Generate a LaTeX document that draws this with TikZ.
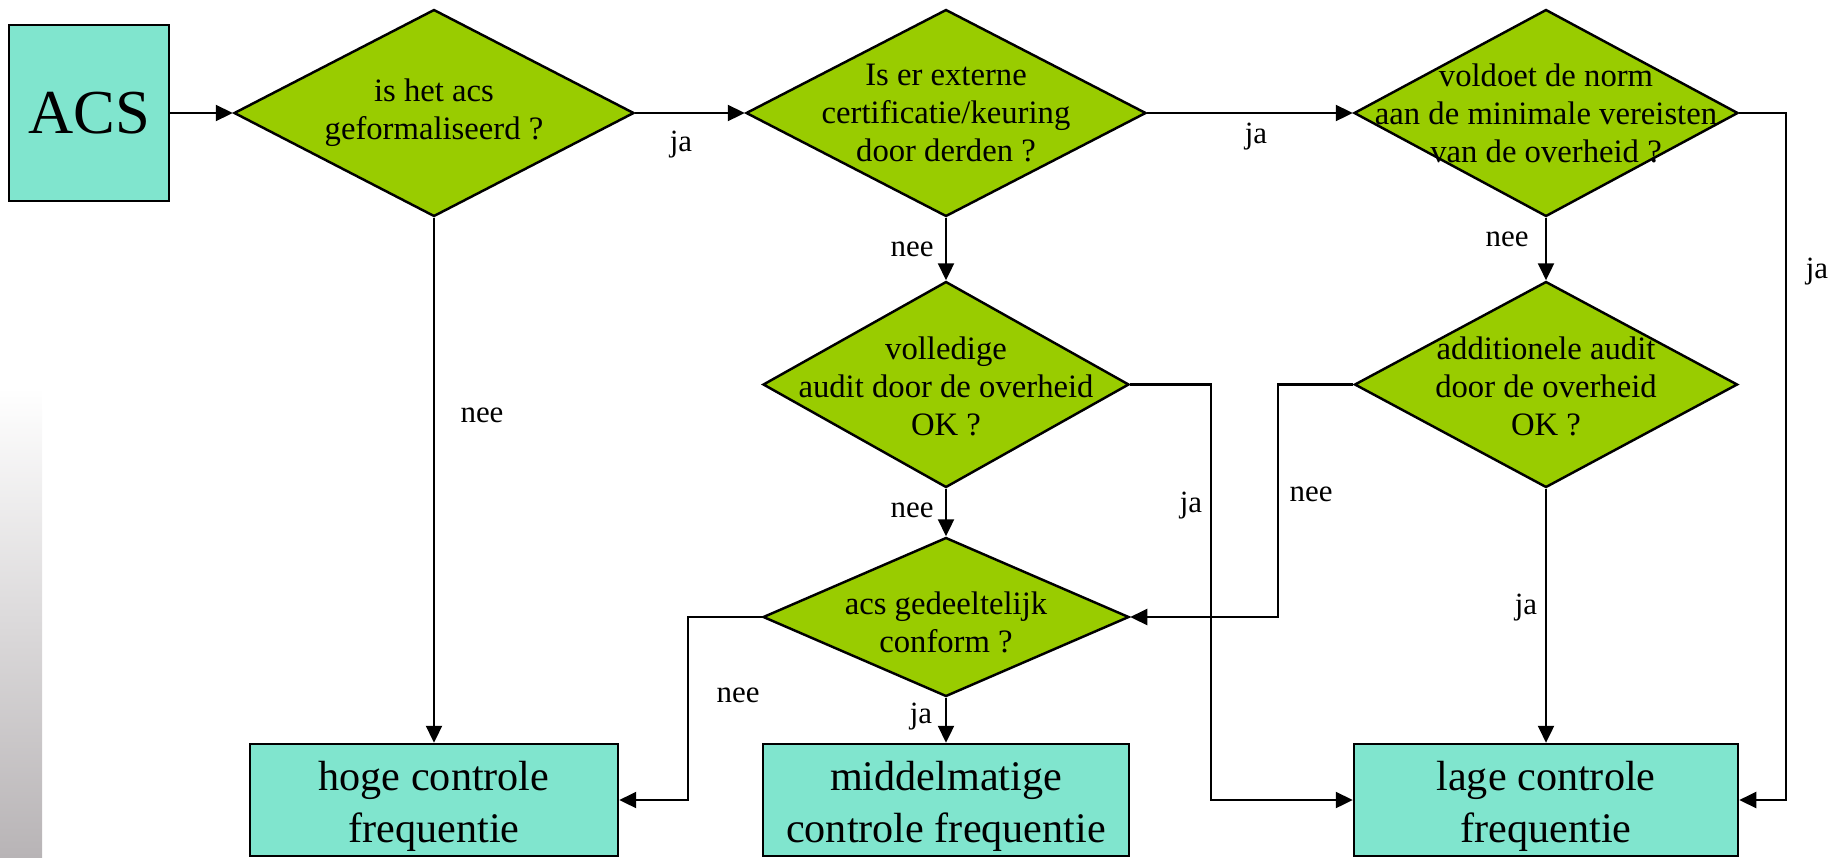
\documentclass[tikz,border=0pt]{standalone}
\usepackage{fontspec}
\setmainfont{Liberation Serif}
\usetikzlibrary{calc, positioning, arrows.meta, shapes.geometric}
\definecolor{kiwi}{RGB}{153,204,0}
\definecolor{mint}{RGB}{128,229,206}
\definecolor{bargray}{RGB}{184,180,182}

\begin{document}
\begin{tikzpicture}[
  decision/.style={diamond, draw, line width=0.7pt, fill=kiwi, inner sep=0pt},
  dtext/.style={align=center, inner sep=0pt, font=\fontsize{9.3}{10.8}\selectfont},
  result/.style={rectangle, draw, line width=0.7pt, fill=mint, align=center, inner sep=0pt,
                 minimum height=1.12cm, font=\fontsize{12}{15}\selectfont},
  outcome/.style={result, text height=27pt},
  answer/.style={inner sep=0pt, font=\fontsize{8.8}{10}\selectfont},
  >={Triangle[length=1.7mm, width=1.6mm]}
]
\useasboundingbox (0,0) rectangle (18.4,-8.57);

% Side bar
\shade[top color=white, bottom color=bargray] (0,-3.87) rectangle (0.42,-8.57);

% Start
\node[result, minimum width=1.60cm, minimum height=1.76cm, font=\fontsize{17.8}{20}\selectfont] (acs) at (0.89,-1.13) {ACS};

% Top row of questions
\node[decision, minimum width=4.00cm, minimum height=2.07cm] (d1) at (4.34,-1.13) {};
\node[dtext] (d1t) at (d1) {is het acs\\geformaliseerd ?};

\node[decision, minimum width=4.00cm, minimum height=2.07cm] (d2) at (9.46,-1.13) {};
\node[dtext] (d2t) at (d2) {Is er externe\\certificatie/keuring\\door derden ?};

\node[decision, minimum width=3.84cm, minimum height=2.07cm] (d3) at (15.46,-1.13) {};
\node[dtext] (d3t) at (d3) {voldoet de norm\\aan de minimale vereisten\\van de overheid ?};

% Audits
\node[decision, minimum width=3.66cm, minimum height=2.06cm] (d4) at (9.46,-3.845) {};
\node[dtext] (d4t) at ([yshift=-0.02cm]d4) {volledige\\audit door de overheid\\OK ?};

\node[decision, minimum width=3.83cm, minimum height=2.06cm] (d5) at (15.46,-3.845) {};
\node[dtext] (d5t) at ([yshift=-0.02cm]d5) {additionele audit\\door de overheid\\OK ?};

\node[decision, minimum width=3.66cm, minimum height=1.59cm] (d6) at (9.46,-6.17) {};
\node[dtext] (d6t) at ([yshift=-0.05cm]d6) {acs gedeeltelijk\\conform ?};

% Outcomes
\node[outcome, minimum width=3.68cm] (hoge) at (4.34,-8.00) {hoge controle\\frequentie};
\node[outcome, minimum width=3.66cm] (midden) at (9.46,-8.00) {middelmatige\\controle frequentie};
\node[outcome, minimum width=3.84cm] (lage) at (15.46,-8.00) {lage controle\\frequentie};

% Connectors
\begin{scope}[line width=0.6pt]
\draw[->] (acs.east) -- (d1.west);
\draw[->] (d1.east) -- (d2.west);
\draw[->] (d2.east) -- (d3.west);
\draw[->] (d3.east) -- ++(0.47,0) |- (lage.east);
\draw[->] (d1.south) -- (hoge.north);
\draw[->] (d2.south) -- (d4.north);
\draw[->] (d3.south) -- (d5.north);
\draw[->] (d4.south) -- (d6.north);
\draw[->] (d4.east) -- ++(0.81,0) |- (lage.west);
\draw[->] (d5.west) -- ++(-0.755,0) |- (d6.east);
\draw[->] (d5.south) -- (lage.north);
\draw[->] (d6.west) -- ++(-0.74,0) |- (hoge.east);
\draw[->] (d6.south) -- (midden.north);
\end{scope}

% Answers
\node[answer] (ja1) at (6.81,-1.45) {ja};
\node[answer] (ja2) at (12.56,-1.37) {ja};
\node[answer] (ja3) at (18.17,-2.72) {ja};
\node[answer] (nee1) at (4.82,-4.15) {nee};
\node[answer] (nee2) at (9.12,-2.49) {nee};
\node[answer] (nee3) at (15.07,-2.39) {nee};
\node[answer] (nee4) at (9.12,-5.10) {nee};
\node[answer] (ja4) at (11.91,-5.06) {ja};
\node[answer] (nee5) at (13.11,-4.94) {nee};
\node[answer] (ja5) at (15.26,-6.08) {ja};
\node[answer] (nee6) at (7.38,-6.95) {nee};
\node[answer] (ja6) at (9.21,-7.17) {ja};

\end{tikzpicture}
\end{document}
